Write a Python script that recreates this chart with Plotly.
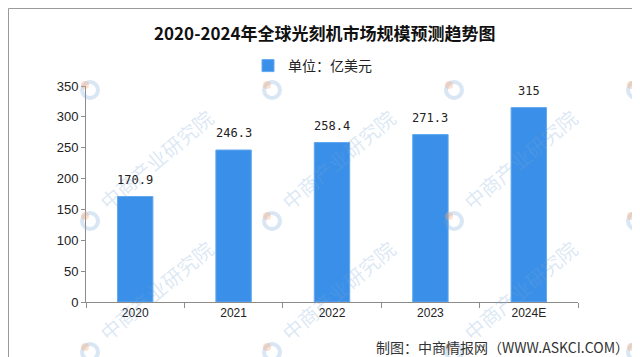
import plotly.graph_objects as go

categories = ["2020", "2021", "2022", "2023", "2024E"]
values = [170.9, 246.3, 258.4, 271.3, 315]
value_labels = ["170.9", "246.3", "258.4", "271.3", "315"]
y_ticks = [0, 50, 100, 150, 200, 250, 300, 350]
series_name = "单位：亿美元"
title_text = "2020-2024年全球光刻机市场规模预测趋势图"
source_text = "制图：中商情报网（WWW.ASKCI.COM）"
watermark_text = "中商产业研究院"

W, H = 640, 357
L, R, T, B = 78, 570, 78, 294  # plot area in pixels

def px(x):
    return (x - L) / (R - L)

def py(y):
    return (B - y) / (B - T)

CJK = "Noto Sans CJK SC"
BAR = "#3a8fe8"

fig = go.Figure()
fig.add_trace(go.Bar(
    x=categories, y=values, name=series_name,
    marker=dict(color=BAR, line=dict(color="#62a9ef", width=1)),
    showlegend=True,
))

annotations = []
shapes = []
# faint watermarks
wm_x = [-100, 82, 264, 446, 628]
wm_y = [82, 213, 344]
for lx in wm_x:
    for ly in wm_y:
        if 0 < lx < 600 and ly > 100:
            annotations.append(dict(
                x=px(lx + 66), y=py(ly - 62), xref="paper", yref="paper",
                text=watermark_text, showarrow=False, textangle=-40,
                font=dict(family=CJK, size=20, color="rgba(120,165,215,0.26)"),
                xanchor="center", yanchor="middle",
            ))
        shapes.append(dict(type="circle", xref="paper", yref="paper",
                           x0=px(lx - 8), x1=px(lx + 8), y0=py(ly + 8), y1=py(ly - 8),
                           line=dict(color="rgba(120,165,215,0.28)", width=4),
                           layer="above"))
        shapes.append(dict(type="circle", xref="paper", yref="paper",
                           x0=px(lx - 9), x1=px(lx - 1), y0=py(ly - 1), y1=py(ly - 9),
                           fillcolor="rgba(245,170,120,0.35)", line=dict(width=0),
                           layer="above"))

# value labels (x given as category index)
for i, (v, t) in enumerate(zip(values, value_labels)):
    annotations.append(dict(
        x=i, y=v, xref="x", yref="y", text=t, showarrow=False,
        yanchor="bottom", yshift=8,
        font=dict(family="DejaVu Sans Mono", size=12, color="#222"),
    ))

# source
annotations.append(dict(
    x=px(623), y=py(339), xref="paper", yref="paper", text=source_text,
    showarrow=False, xanchor="right", yanchor="middle",
    font=dict(family=CJK, size=14, color="#333"),
))

# frame
shapes.append(dict(type="rect", xref="paper", yref="paper",
                   x0=px(0.5), x1=px(632), y0=py(0.5), y1=py(355),
                   line=dict(color="#9a9a9a", width=1), layer="below"))

fig.update_layout(
    width=W, height=H,
    margin=dict(l=L, r=W - R, t=T, b=H - B),
    paper_bgcolor="white", plot_bgcolor="white",
    title=dict(text="<b>" + title_text + "</b>", x=0.495, xanchor="center",
               y=1 - 26 / H, yanchor="middle",
               font=dict(family=CJK, size=17, color="#111")),
    legend=dict(orientation="h", x=px(240), xanchor="left", y=py(58), yanchor="middle",
                font=dict(family=CJK, size=14, color="#222"),
                bgcolor="rgba(0,0,0,0)"),
    bargap=0.64,
    xaxis=dict(type="category", range=[-0.5, len(categories) - 0.5],
               showline=True, linecolor="#8c8c8c", linewidth=1,
               ticks="outside", tickson="boundaries", ticklen=5, tickcolor="#8c8c8c",
               tickfont=dict(family="Liberation Sans", size=12, color="#222"),
               showgrid=False, zeroline=False, fixedrange=True),
    yaxis=dict(range=[0, 350], tickvals=y_ticks, showline=True, linecolor="#8c8c8c",
               linewidth=1, ticks="outside", ticklen=4, tickcolor="#8c8c8c",
               tickfont=dict(family="Liberation Sans", size=13, color="#222"),
               showgrid=False, zeroline=False, fixedrange=True),
    annotations=annotations,
    shapes=shapes,
)

fig.write_html("out.html")
